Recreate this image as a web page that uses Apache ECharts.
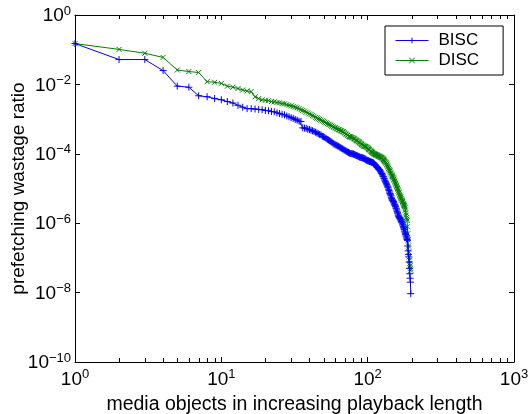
<!DOCTYPE html>
<html>
<head>
<meta charset="utf-8">
<script src="https://cdn.jsdelivr.net/npm/echarts@6/dist/echarts.min.js"></script>
<style>
  html, body { margin: 0; padding: 0; background: #fff; }
  #main { width: 528px; height: 414px; }
</style>
</head>
<body>
<div id="main"></div>
<script>
// prefetching wastage ratio per media object (rank 1..197)
var bisc = [
  1.5e-1, 5.2e-2, 5.2e-2, 2.5e-2, 8.9e-3, 8.3e-3, 4.7e-3, 4.4e-3, 3.9e-3, 3.6e-3,
  3.2e-3, 2.9e-3, 2.5e-3, 2.2e-3, 2.0e-3, 2.0e-3, 1.95e-3, 1.9e-3, 1.86e-3, 1.78e-3,
  1.74e-3, 1.66e-3, 1.62e-3, 1.51e-3, 1.45e-3, 1.38e-3, 1.32e-3, 1.23e-3, 1.17e-3, 1.10e-3,
  1.05e-3, 9.8e-4, 9.3e-4, 8.7e-4, 8.5e-4, 5.6e-4, 5.5e-4, 5.4e-4, 5.1e-4, 5.0e-4,
  4.8e-4, 4.6e-4, 4.4e-4, 4.2e-4, 4.0e-4, 3.8e-4, 3.6e-4, 3.5e-4, 3.2e-4, 3.1e-4,
  2.95e-4, 2.75e-4, 2.6e-4, 2.5e-4, 2.4e-4, 2.25e-4, 2.15e-4, 2.0e-4, 1.9e-4, 1.82e-4,
  1.78e-4, 1.7e-4, 1.66e-4, 1.58e-4, 1.51e-4, 1.45e-4, 1.41e-4, 1.35e-4, 1.29e-4, 1.26e-4,
  1.2e-4, 1.17e-4, 1.12e-4, 1.10e-4, 1.05e-4, 1.02e-4, 1.02e-4, 1.0e-4, 1.0e-4, 9.8e-5,
  9.5e-5, 9.3e-5, 9.1e-5, 8.9e-5, 8.7e-5, 8.5e-5, 8.3e-5, 8.1e-5, 7.9e-5, 7.9e-5,
  7.8e-5, 7.6e-5, 7.6e-5, 7.4e-5, 7.2e-5, 7.1e-5, 6.8e-5, 6.6e-5, 6.5e-5, 6.3e-5,
  6.3e-5, 6.2e-5, 6.0e-5, 6.0e-5, 5.9e-5, 5.8e-5, 5.6e-5, 5.6e-5, 5.5e-5, 5.4e-5,
  5.1e-5, 4.9e-5, 4.7e-5, 4.5e-5, 4.3e-5, 4.1e-5, 4.0e-5, 3.8e-5, 3.6e-5, 3.5e-5,
  3.4e-5, 3.2e-5, 3.0e-5, 2.8e-5, 2.7e-5, 2.5e-5, 2.3e-5, 2.2e-5, 2.0e-5, 1.9e-5,
  1.74e-5, 1.62e-5, 1.51e-5, 1.41e-5, 1.32e-5, 1.2e-5, 1.12e-5, 1.05e-5, 9.5e-6, 8.7e-6,
  7.9e-6, 7.2e-6, 6.8e-6, 6.2e-6, 5.6e-6, 5.1e-6, 4.7e-6, 4.6e-6, 4.4e-6, 4.2e-6,
  3.9e-6, 3.6e-6, 3.4e-6, 3.2e-6, 3.0e-6, 2.75e-6, 2.6e-6, 2.4e-6, 2.2e-6, 2.0e-6,
  1.86e-6, 1.7e-6, 1.58e-6, 1.51e-6, 1.45e-6, 1.38e-6, 1.32e-6, 1.26e-6, 1.17e-6, 1.12e-6,
  1.07e-6, 1.02e-6, 9.5e-7, 8.9e-7, 8.1e-7, 7.6e-7, 6.9e-7, 6.5e-7, 5.9e-7, 5.5e-7,
  5.0e-7, 4.7e-7, 4.3e-7, 4.0e-7, 3.7e-7, 3.4e-7, 3.2e-7, 2.2e-7, 1.6e-7, 1.26e-7,
  1.07e-7, 7.6e-8, 5.0e-8, 3.5e-8, 2.6e-8, 2.0e-8, 9.3e-9
];
var disc = [
  1.5e-1, 1.02e-1, 7.9e-2, 6.0e-2, 2.6e-2, 2.35e-2, 2.2e-2, 1.2e-2, 1.15e-2, 1.07e-2,
  8.9e-3, 8.3e-3, 7.6e-3, 6.9e-3, 6.5e-3, 6.2e-3, 4.4e-3, 3.9e-3, 3.6e-3, 3.5e-3,
  3.4e-3, 3.2e-3, 3.15e-3, 3.0e-3, 2.95e-3, 2.8e-3, 2.75e-3, 2.6e-3, 2.5e-3, 2.4e-3,
  2.3e-3, 2.2e-3, 2.1e-3, 2.0e-3, 1.86e-3, 1.78e-3, 1.7e-3, 1.58e-3, 1.51e-3, 1.41e-3,
  1.35e-3, 1.26e-3, 1.2e-3, 1.12e-3, 1.07e-3, 1.02e-3, 9.8e-4, 9.3e-4, 8.9e-4, 8.5e-4,
  8.1e-4, 7.8e-4, 7.4e-4, 7.1e-4, 6.9e-4, 6.6e-4, 6.3e-4, 6.0e-4, 5.8e-4, 5.6e-4,
  5.4e-4, 5.2e-4, 5.0e-4, 4.9e-4, 4.7e-4, 4.6e-4, 4.4e-4, 4.3e-4, 4.1e-4, 3.9e-4,
  3.7e-4, 3.55e-4, 3.4e-4, 3.2e-4, 3.16e-4, 3.1e-4, 3.0e-4, 2.95e-4, 2.9e-4, 2.8e-4,
  2.7e-4, 2.6e-4, 2.5e-4, 2.4e-4, 2.35e-4, 2.25e-4, 2.2e-4, 2.1e-4, 2.0e-4, 1.95e-4,
  1.86e-4, 1.78e-4, 1.74e-4, 1.66e-4, 1.66e-4, 1.62e-4, 1.62e-4, 1.58e-4, 1.51e-4, 1.48e-4,
  1.41e-4, 1.35e-4, 1.32e-4, 1.26e-4, 1.2e-4, 1.17e-4, 1.12e-4, 1.10e-4, 1.05e-4, 1.02e-4,
  1.0e-4, 9.8e-5, 9.5e-5, 9.3e-5, 9.3e-5, 9.1e-5, 8.9e-5, 8.7e-5, 8.5e-5, 8.5e-5,
  8.3e-5, 8.1e-5, 7.9e-5, 7.8e-5, 7.6e-5, 7.4e-5, 7.1e-5, 6.8e-5, 6.6e-5, 6.3e-5,
  6.0e-5, 5.8e-5, 5.5e-5, 5.4e-5, 5.0e-5, 4.7e-5, 4.4e-5, 4.1e-5, 3.8e-5, 3.5e-5,
  3.4e-5, 3.2e-5, 2.95e-5, 2.8e-5, 2.6e-5, 2.45e-5, 2.3e-5, 2.2e-5, 2.1e-5, 2.0e-5,
  1.86e-5, 1.74e-5, 1.62e-5, 1.51e-5, 1.41e-5, 1.32e-5, 1.23e-5, 1.15e-5, 1.07e-5, 1.0e-5,
  9.3e-6, 8.5e-6, 7.9e-6, 7.4e-6, 6.8e-6, 6.3e-6, 5.9e-6, 5.6e-6, 5.2e-6, 5.0e-6,
  4.7e-6, 4.5e-6, 4.2e-6, 4.0e-6, 3.7e-6, 3.5e-6, 3.3e-6, 3.2e-6, 3.0e-6, 2.8e-6,
  2.4e-6, 2.0e-6, 1.7e-6, 1.45e-6, 1.32e-6, 1.2e-6, 7.9e-7, 5.0e-7, 3.3e-7, 2.2e-7,
  1.5e-7, 1.07e-7, 8.5e-8, 6.9e-8, 5.9e-8, 5.0e-8, 4.4e-8
];
// minor tick positions on the log x axis
var xMinorTicks = [2, 3, 4, 5, 6, 7, 8, 9, 20, 30, 40, 50, 60, 70, 80, 90, 200, 300, 400, 500, 600, 700, 800, 900];

var FONT = 'Liberation Sans, Arial, Helvetica, sans-serif';
var BLUE = '#0000ff';
var GREEN = '#008000';

function toPairs(arr) {
  return arr.map(function (v, i) { return [i + 1, v]; });
}

function powLabel(v) {
  var e = Math.round(Math.log10(v));
  return '{b|10}{s|' + String(e).replace('-', '\u2212') + '}';
}

var labelRich = {
  b: { fontSize: 19, fontFamily: FONT, color: '#000', verticalAlign: 'bottom' },
  s: { fontSize: 13, fontFamily: FONT, color: '#000', verticalAlign: 'bottom', padding: [0, 0, 8, 0] }
};

var chartDom = document.getElementById('main');
var myChart = echarts.init(chartDom, null, { renderer: 'canvas' });

var option = {
  animation: false,
  backgroundColor: '#fff',
  grid: { left: 75, top: 15, right: 14, bottom: 52, containLabel: false, outerBoundsMode: 'none' },
  legend: {
    data: ['BISC', 'DISC'],
    orient: 'vertical',
    left: 385,
    top: 26,
    padding: [6, 24, 6, 10],
    itemGap: 3,
    itemWidth: 33,
    itemHeight: 7,
    borderColor: '#000',
    borderWidth: 1,
    backgroundColor: '#fff',
    lineStyle: { width: 1 },
    itemStyle: { borderWidth: 1 },
    textStyle: { fontSize: 17, fontFamily: FONT, color: '#000', padding: [0, 0, 0, 5] }
  },
  xAxis: [
    {
      type: 'log', logBase: 10, min: 1, max: 1000, interval: 1,
      name: 'media objects in increasing playback length',
      nameLocation: 'middle', nameGap: 33,
      nameTextStyle: { fontSize: 19.5, fontFamily: FONT, color: '#000' },
      axisLine: { lineStyle: { color: '#000', width: 1 } },
      axisTick: { inside: true, length: 5, lineStyle: { color: '#000' } },
      axisLabel: { margin: 6, formatter: powLabel, rich: labelRich },
      splitLine: { show: false }
    },
    {
      type: 'log', logBase: 10, min: 1, max: 1000, interval: 1, position: 'top',
      axisLine: { lineStyle: { color: '#000', width: 1 } },
      axisTick: { inside: true, length: 5, lineStyle: { color: '#000' } },
      axisLabel: { show: false },
      splitLine: { show: false }
    }
  ],
  yAxis: [
    {
      type: 'log', logBase: 10, min: 1e-10, max: 1, interval: 2,
      name: 'prefetching wastage ratio',
      nameLocation: 'middle', nameGap: 47, nameMoveOverlap: false,
      nameTextStyle: { fontSize: 19, fontFamily: FONT, color: '#000' },
      axisLine: { lineStyle: { color: '#000', width: 1 } },
      axisTick: { inside: true, length: 5, lineStyle: { color: '#000' } },
      axisLabel: { margin: 4, formatter: powLabel, rich: labelRich },
      splitLine: { show: false }
    },
    {
      type: 'log', logBase: 10, min: 1e-10, max: 1, interval: 2, position: 'right',
      axisLine: { lineStyle: { color: '#000', width: 1 } },
      axisTick: { inside: true, length: 5, lineStyle: { color: '#000' } },
      axisLabel: { show: false },
      splitLine: { show: false }
    }
  ],
  series: [
    {
      name: 'BISC',
      type: 'line',
      data: toPairs(bisc),
      showAllSymbol: true,
      symbol: 'path://M5,0L5,10M0,5L10,5',
      symbolSize: 7,
      lineStyle: { color: BLUE, width: 1 },
      itemStyle: { color: BLUE, borderColor: BLUE, borderWidth: 1 },
      z: 3
    },
    {
      name: 'DISC',
      type: 'line',
      data: toPairs(disc),
      showAllSymbol: true,
      symbol: 'path://M0,0L10,10M10,0L0,10',
      symbolSize: 5,
      lineStyle: { color: GREEN, width: 1 },
      itemStyle: { color: GREEN, borderColor: GREEN, borderWidth: 1 },
      z: 2
    },
    {
      // minor ticks at 2..9 of each decade, top and bottom
      type: 'custom',
      silent: true,
      data: xMinorTicks.map(function (v) { return [v, 1e-5]; }),
      renderItem: function (params, api) {
        var cs = params.coordSys;
        var p = api.coord([api.value(0), api.value(1)]);
        var x = Math.round(p[0]) + 0.5;
        var b = cs.y + cs.height;
        var t = cs.y;
        return {
          type: 'group',
          children: [
            { type: 'line', shape: { x1: x, y1: b, x2: x, y2: b - 4 }, style: { stroke: '#000', lineWidth: 1 } },
            { type: 'line', shape: { x1: x, y1: t, x2: x, y2: t + 4 }, style: { stroke: '#000', lineWidth: 1 } }
          ]
        };
      },
      z: 1
    }
  ]
};

myChart.setOption(option);
</script>
</body>
</html>
